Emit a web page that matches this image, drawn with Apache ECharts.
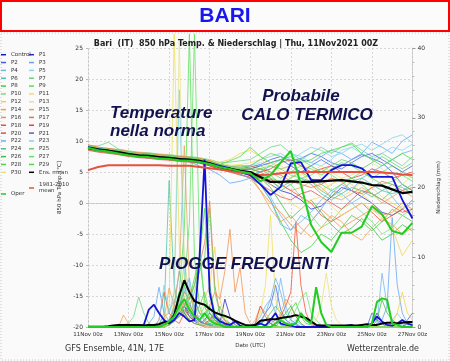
<!DOCTYPE html>
<html><head><meta charset="utf-8">
<script src="https://cdn.jsdelivr.net/npm/echarts@6/dist/echarts.min.js"></script>
<style>html,body{margin:0;padding:0;background:#fafafa}#c{width:450px;height:361px}</style>
</head><body><div id="c"></div>
<script>
// ---- tick labels ----
const X_TICKS = ['11Nov 00z','13Nov 00z','15Nov 00z','17Nov 00z','19Nov 00z','21Nov 00z','23Nov 00z','25Nov 00z','27Nov 00z'];
const T_STEP_DAYS = 0.5;   // temperature every 12 h
const R_STEP_DAYS = 0.25;  // precipitation every 6 h

// ---- 850 hPa temperature (°C), 12-hourly from 11Nov 00z ----
const T_CONTROL = [9.0,8.7,8.5,8.1,7.9,7.6,7.5,7.4,7.2,7.1,6.9,6.6,6.4,6.0,5.6,5.0,4.5,3.0,1.3,2.6,6.4,6.6,3.7,3.7,5.3,6.1,6.1,5.6,4.2,4.2,4.2,0.5,-2.5];
const T_P1 = [8.7,8.5,8.1,8.0,7.8,7.4,7.4,7.3,7.0,6.9,6.8,6.5,6.1,5.6,5.3,5.0,4.8,4.0,3.0,2.0,1.5,0.5,-1.0,-0.5,1.0,2.5,2.0,1.0,0.0,-1.5,-2.0,-1.0,0.5];
const T_P2 = [9.2,8.8,8.8,8.5,8.1,8.0,7.9,7.6,7.6,7.5,7.2,7.1,6.8,6.2,5.9,5.6,5.8,6.2,7.0,7.5,6.8,7.2,8.0,7.5,6.5,6.0,7.0,7.8,7.2,6.5,5.0,3.0,2.0];
const T_P3 = [8.8,8.5,8.4,8.0,7.8,7.6,7.4,7.2,7.2,6.9,6.6,6.0,5.4,4.5,3.2,3.5,4.0,5.0,6.0,5.5,6.0,7.0,6.5,7.5,8.5,8.0,7.0,8.0,9.8,9.0,8.0,10.0,11.0];
const T_P4 = [9.1,8.9,8.5,8.4,8.1,7.9,7.7,7.7,7.4,7.3,7.2,6.9,6.6,6.0,5.7,5.4,5.0,3.5,1.0,-2.0,-4.4,-3.0,-1.5,0.5,2.0,1.5,0.0,1.0,2.5,3.0,1.0,-1.0,0.0];
const T_P5 = [8.9,8.7,8.3,8.3,7.9,7.8,7.5,7.5,7.3,7.2,7.0,6.9,6.5,6.1,5.8,5.7,6.0,6.5,6.0,7.0,8.0,7.5,6.5,6.0,7.0,8.5,9.0,8.0,7.0,8.0,9.0,8.5,9.5];
const T_P6 = [8.6,8.3,8.2,7.8,7.6,7.5,7.2,7.1,7.0,6.8,6.7,6.5,6.1,5.5,5.2,4.9,4.5,5.0,4.0,2.0,3.0,4.0,3.5,2.0,1.0,2.0,3.5,4.0,3.0,2.0,1.5,2.0,3.0];
const T_P7 = [9.3,9.2,9.8,8.7,8.4,8.2,8.1,7.9,7.8,7.6,7.5,7.3,7.0,6.5,6.6,6.8,7.0,8.0,9.0,9.4,8.0,7.0,8.0,9.0,8.0,9.0,9.7,8.5,7.5,8.0,7.0,6.0,7.5];
const T_P8 = [8.7,8.4,8.2,8.0,7.7,7.5,7.4,7.2,7.1,6.9,6.7,6.6,6.2,5.6,5.2,4.9,4.5,3.0,0.5,-3.0,-6.0,-8.0,-7.0,-5.0,-6.0,-4.0,-2.0,-3.0,-4.5,-3.0,-1.0,-2.0,-3.0];
const T_P9 = [9.0,8.7,8.5,8.3,8.0,7.8,7.7,7.5,7.4,7.2,7.1,6.9,6.6,6.0,5.7,5.5,5.5,6.0,5.0,4.0,5.0,6.0,5.5,4.5,5.5,6.5,6.0,5.0,4.0,5.0,6.0,5.0,4.0];
const T_P10 = [8.9,8.6,8.3,8.2,7.9,7.6,7.6,7.4,7.2,7.1,6.9,6.8,6.4,5.9,5.5,5.2,5.0,4.5,4.0,3.5,3.0,1.0,-2.0,-4.0,-3.0,-1.0,0.0,-1.5,-3.0,-5.0,-4.0,-2.0,-1.0];
const T_P11 = [9.3,9.0,8.8,8.6,8.3,8.1,8.0,7.8,7.7,7.5,7.4,7.2,6.8,6.4,6.1,6.2,6.5,7.0,6.0,5.0,4.0,5.5,6.0,4.0,2.0,1.0,2.0,3.5,2.5,1.0,0.0,-1.0,0.5];
const T_P12 = [9.2,8.9,8.7,8.5,8.2,8.0,7.9,7.7,7.6,7.4,7.3,7.1,6.9,6.6,7.0,8.0,8.5,7.5,6.5,5.5,6.0,5.0,3.0,2.0,3.0,4.0,3.0,1.5,0.0,-2.0,-4.0,-8.5,-6.0];
const T_P13 = [8.8,8.5,8.3,8.1,7.8,7.6,7.5,7.3,7.2,7.0,6.9,6.7,6.3,5.8,5.4,5.1,5.0,5.5,6.5,6.0,5.0,4.5,5.0,6.0,5.0,4.0,4.5,5.5,6.5,5.5,4.0,3.0,4.5];
const T_P14 = [8.9,8.6,8.4,8.1,7.9,7.7,7.6,7.4,7.3,7.1,7.0,6.8,6.4,5.8,5.4,5.0,4.5,2.0,-1.0,-3.0,-2.0,-4.0,-5.5,-4.0,-2.0,-3.0,-5.0,-6.0,-4.0,-2.5,-3.5,-5.0,-4.0];
const T_P15 = [9.1,8.8,8.6,8.4,8.1,7.9,7.8,7.6,7.5,7.3,7.2,7.0,6.6,6.0,5.7,5.5,5.5,5.0,4.0,3.0,2.0,2.5,3.5,2.5,1.0,0.5,1.5,2.5,1.5,0.0,1.0,2.0,1.0];
const T_P16 = [8.6,8.3,8.1,7.9,7.6,7.4,7.3,7.1,7.0,6.8,6.7,6.5,6.0,5.4,5.0,4.6,4.0,2.0,0.0,-1.5,-3.5,-5.0,-3.0,-1.0,-2.5,-4.0,-3.0,-2.0,-1.0,-2.0,-1.5,0.0,-1.0];
const T_P17 = [9.4,9.0,8.8,8.6,8.3,8.1,8.0,7.8,7.7,7.5,7.4,7.2,6.8,6.2,5.9,6.0,6.0,5.5,5.0,4.5,3.5,3.0,2.5,3.0,4.0,3.5,2.0,1.5,2.5,3.5,3.0,2.0,2.5];
const T_P18 = [8.7,8.4,8.2,8.0,7.7,7.5,7.4,7.2,7.1,6.9,6.8,6.5,6.0,5.4,5.0,4.5,4.2,4.0,3.8,3.0,2.0,1.0,0.0,-2.0,-3.0,-2.0,-1.0,0.0,-1.5,-3.0,-2.0,-1.0,-2.0];
const T_P19 = [9.0,8.7,8.5,8.3,8.0,7.8,7.7,7.5,7.4,7.2,7.1,6.9,6.5,5.9,5.6,5.4,5.5,5.0,5.5,6.5,7.0,6.0,5.0,5.5,6.0,5.0,4.0,4.5,5.5,5.0,4.0,4.5,5.0];
const T_P20 = [8.5,8.2,8.0,7.8,7.5,7.3,7.2,7.0,6.9,6.7,6.6,6.4,6.0,5.4,5.1,4.7,4.0,3.0,2.0,1.0,0.5,1.5,2.0,1.0,0.0,-1.0,0.5,2.0,1.5,0.5,-0.5,-1.5,-1.0];
const T_P21 = [9.0,8.7,8.5,8.3,8.0,7.8,7.7,7.5,7.4,7.2,7.1,6.9,6.5,5.9,5.6,5.3,5.5,6.0,6.5,7.0,6.0,5.0,6.0,7.0,6.0,5.5,6.5,7.5,8.0,7.0,6.0,5.0,6.0];
const T_P22 = [8.8,8.5,8.3,8.1,7.8,7.6,7.5,7.3,7.2,7.0,6.9,6.6,6.2,5.6,5.2,4.6,4.0,3.0,0.5,-3.5,-4.4,-2.0,-3.0,-1.0,1.5,3.0,2.0,4.0,5.0,6.0,7.0,8.0,8.5];
const T_P23 = [9.1,8.8,8.6,8.4,8.1,7.9,7.8,7.6,7.5,7.3,7.2,7.0,6.6,6.1,5.8,5.7,6.0,7.0,7.5,8.0,7.0,8.0,9.0,8.5,7.5,8.0,9.0,9.5,8.5,9.5,10.5,11.0,9.7];
const T_P24 = [8.9,8.6,8.4,8.2,7.9,7.7,7.6,7.4,7.3,7.1,7.0,6.8,6.4,5.8,5.5,5.2,5.0,4.5,3.5,2.5,3.5,4.0,3.0,1.5,0.5,1.5,2.5,2.0,1.0,2.0,3.0,2.5,1.5];
const T_P25 = [9.2,8.9,8.7,8.5,8.2,8.0,7.9,7.7,7.6,7.4,7.3,7.1,6.7,6.2,5.9,5.8,6.0,7.0,8.0,7.5,6.5,7.0,6.0,5.0,6.0,7.0,6.5,5.5,6.5,7.5,6.5,5.5,6.5];
const T_P26 = [8.7,8.4,8.2,8.0,7.7,7.5,7.4,7.2,7.1,6.9,6.8,6.6,6.2,5.6,5.3,5.0,4.8,4.0,2.5,0.0,-2.5,-1.0,0.5,-1.5,-3.5,-5.0,-4.0,-2.5,-4.0,-6.0,-5.0,-3.5,-4.5];
const T_P27 = [9.1,8.8,8.6,8.4,8.1,7.9,7.8,7.6,7.5,7.3,7.2,7.0,6.6,6.0,5.7,5.5,5.5,5.5,6.0,5.5,4.5,4.0,4.5,5.5,4.5,3.5,4.0,5.0,4.0,3.0,3.5,4.5,3.5];
const T_P28 = [8.8,8.5,8.3,8.1,7.8,7.6,7.5,7.3,7.2,7.0,6.9,6.7,6.3,5.7,5.4,5.1,5.0,5.5,4.5,3.0,4.0,5.0,4.0,3.0,2.0,3.0,4.0,3.0,1.5,0.5,2.0,3.0,2.0];
const T_P29 = [9.0,8.7,8.5,8.3,8.0,7.8,7.7,7.5,7.4,7.2,7.1,6.9,6.5,6.2,6.8,7.5,9.0,7.5,6.5,7.0,7.5,6.5,7.0,8.0,8.5,9.0,9.5,8.0,7.0,6.0,7.0,8.0,7.0];
const T_P30 = [8.9,8.6,8.4,8.2,7.9,7.7,7.6,7.4,7.3,7.1,7.0,6.8,6.4,5.8,5.5,5.2,5.0,4.0,3.0,1.5,0.0,-1.0,0.5,1.0,-0.5,-2.0,-1.0,0.0,-1.0,-2.5,-1.5,-0.5,-1.5];
const T_ENS_MEAN = [8.9,8.6,8.4,8.2,7.9,7.7,7.6,7.4,7.3,7.1,7.0,6.8,6.4,5.8,5.5,5.2,5.0,4.2,3.4,3.4,3.5,3.4,3.4,3.5,3.6,3.7,3.5,3.3,2.9,2.8,2.2,1.6,1.8];
const T_OPER = [8.9,8.5,8.3,8.0,7.7,7.5,7.4,7.2,7.1,6.9,6.8,6.6,6.3,5.8,5.5,5.1,4.8,3.5,4.5,6.5,8.4,3.0,-3.5,-6.3,-7.9,-4.8,-4.8,-3.8,-0.5,-1.8,-4.5,-5.0,-3.2];
const T_CLIM = [5.3,5.8,6.1,6.1,6.1,6.1,6.1,6.1,6.0,6.0,6.0,5.8,5.6,5.4,5.2,4.9,4.7,4.5,4.6,4.8,4.9,5.0,5.0,5.0,5.0,5.0,5.0,5.0,5.0,4.9,4.8,4.6,4.5];

// ---- precipitation (mm / 6 h), 6-hourly from 11Nov 00z ----
const R_CONTROL = [0,0,0,0, 0,0,0.1,0, 0,0,0.2,0.3, 2.5,3.2,2.0,1.0, 0.5,1.0,2.0,1.5, 0.8,1.0,10,24, 5.0,1.5,0.8,0.5, 0.3,0.8,0.2,0, 0,0.3,0.5,0.2, 1.0,2.0,0.5,0.3, 0.2,0,0,0, 0,0,0,0, 0,0,0,0.2, 0.3,0,0,0, 0.5,1.5,0.8,0.3, 0.2,0.5,1.0,0.5, 0.3];
const R_P1 = [0,0,0,0, 0,0,0,0, 0,0,0,0, 0,0.2,0.3,0, 0.5,1.0,2.0,3.0, 1.5,0.8,0.5,1.0, 2.0,1.0,0.5,4.0, 1.5,0.3,0,0, 0,0,0.5,1.0, 0.5,0.2,0,0, 0,0,0,0, 0,0,0,0, 0,0,0,0, 0,0,0,0, 0.5,2.0,0.8,0.3, 0,0,0,0.5, 0.2];
const R_P2 = [0,0,0,0, 0,0,0,0, 0,0,0.3,0.2, 0,0,0,0.5, 1.0,2.5,4.0,2.0, 3.5,1.5,0.8,0.5, 0.3,0.5,1.2,0.6, 0.2,0,0,0, 0,0,0.8,2.0, 3.0,6.0,2.5,1.0, 0.5,0.3,0,0, 0,0,0,0, 0,0,0,0, 0,0,0,0, 0,0,0,0, 0,0,0,0, 0];
const R_P3 = [0,0,0,0, 0,0,0,0, 0,0,0,0, 0.5,1.5,5.7,2.0, 0.8,3.0,8.0,4.0, 2.0,1.0,0.5,0.3, 0.8,1.5,0.5,0.2, 0,0,0,0, 0,0,0,0, 0.5,1.0,0.3,0, 0,0,0,0, 0,0,0,0, 0,0,0,0, 0,0,0,0, 0,0.5,1.0,3.0, 15.7,6.0,2.0,0.5, 0.3];
const R_P4 = [0,0,0,0, 0,0,0,0, 0,0,0,0, 0,0.3,0.5,1.5, 2.0,4.0,2.5,6.0, 3.0,1.5,0.8,0.3, 0.5,0.2,0,0, 0,0,0,0, 0,0.5,1.5,3.0, 4.0,2.0,7.0,3.0, 1.0,0.5,0,0, 0,0,0,0, 0,0,0,0, 0,0,0,0, 0,0.5,7.7,3.0, 1.0,0.5,0.3,0, 0];
const R_P5 = [0,0,0,0, 0,0,0,0, 0,0,0,0, 0,0,0.5,1.0, 0.5,1.5,3.5,9.0, 5.0,2.0,1.0,0.5, 0.3,0.2,0,0, 0,0,0,0, 0,0,0,0, 0,0,0,0, 0.5,1.0,0.3,0, 0,0,0,0, 0,0,0,0, 0,0,0,0, 0,0,0,0.5, 1.0,2.0,1.0,0.3, 0];
const R_P6 = [0,0,0,0, 0,0,0,0, 0,0,0,0, 0,0,0.3,2.0, 21.0,6.0,2.5,1.5, 3.0,1.0,0.5,0.3, 0.2,0.5,0.2,0, 0,0,0,0, 0,0,0,0, 0,0,0,0, 0,0,0,0, 0,0,0,0, 0,0,0,0, 0,0,0,0, 0,0,0,0, 0,0,0,0, 0];
const R_P7 = [0,0,0,0, 0,0,0,0.3, 0.5,1.5,4.3,2.0, 0.5,0.2,0,0, 0.5,2.0,3.0,1.5, 1.0,4.0,2.0,0.8, 0.3,0,0,0, 0,0,0,0, 0,0,0,0, 0,0,0,0, 0,0,0,0, 0,0,0,0, 0,0,0,0, 0,0,0,0, 0,0,0,0, 0,0,0,0, 0];
const R_P8 = [0,0,0,0, 0,0,0,0, 0,0,0,0, 0,0,0,0.5, 1.0,2.0,5.0,3.0, 4.0,7.0,10.0,4.0, 2.0,1.0,0.5,0.3, 0.2,0,0,0, 0,0,0.5,1.0, 2.0,3.0,2.0,1.0, 2.5,3.5,1.5,0.5, 0.3,0,0,0, 0,0,0,0, 0,0,0,0, 0,0,0,0, 0,0,0,0, 0];
const R_P9 = [0,0,0,0, 0,0,0,0, 0,0,0,0, 0,0,0,0.3, 0.8,2.0,5.0,14.0, 42.0,10.0,3.0,1.0, 0.5,0.3,0,0, 0,0,0,0, 0,0,0,0, 0,0,0,0, 0,0,0,0, 0,0,0,0, 0,0,0,0, 0,0,0,0, 0,0,0,0, 0,0,0,0, 0];
const R_P10 = [0,0,0,0, 0,0,0,0, 0,0,0,0, 0,0,0,0.5, 1.0,2.0,3.5,6.0, 2.0,1.0,1.5,3.0, 1.5,0.5,0.3,0, 0,0,0,0, 0,0,0,0, 0,0,0,0.5, 1.0,2.5,4.0,5.0, 2.0,1.0,0.3,0, 0,0,0,0, 0,0,0,0, 0,0,0,0, 0,0,0,0, 0];
const R_P11 = [0,0,0,0, 0,0,0,0, 0,0,0,0, 0,0,0,0.5, 3.0,42.0,12.0,4.0, 2.0,1.0,0.5,0.3, 0,0,0,0, 0,0,0,0, 0,0.5,2.0,6.0, 16.0,4.0,1.5,0.5, 0.3,0,0,0, 0,0,0,0, 0,0,0,0, 0,0,0,0, 0,0,0,0, 0,0,0,0, 0];
const R_P12 = [0,0,0,0, 0,0,0,0, 0,0,0,0, 0,0,0,0, 0.5,1.0,2.0,3.0, 5.0,3.0,2.0,4.0, 6.0,11.5,4.0,1.5, 0.5,0.2,0,0, 0,0,0,0, 0,0,0,0, 0,0,0,0, 0,0,0,0, 0,0,0,0, 0,0,0,0, 0,0,0,0, 0.5,2.0,5.0,2.0, 1.0];
const R_P13 = [0,0,0,0, 0,0,0,0, 0,0,0,0, 0,0,0,0, 0.5,4.0,41.0,10.0, 3.0,1.5,0.5,0.3, 0,0,0,0, 0,0,0,0, 0,0,0,0, 0,0,0,0, 0,0,0,0, 0,0,0,0, 0,0,0,0, 0,0,0,0, 0,0,0,0, 0,0,0,0, 0];
const R_P14 = [0,0,0,0, 0,0,0,1.7, 0.5,0,0,0, 0,0,0,1.0, 5.6,3.0,2.0,1.5, 2.0,1.0,0.5,0.8, 1.5,0.8,0.3,0, 0,0,0,0, 0,1.0,3.0,2.0, 1.0,0.5,2.0,4.0, 3.0,1.5,0.5,0, 0,0,0,0, 0,0,0,0, 0,0,0,0, 0,0,0,0, 0,0,0,0, 0];
const R_P15 = [0,0,0,0, 0,0,0,0, 0,0,0,0, 0,0,0,0.5, 1.0,3.0,8.0,26.0, 6.0,2.0,1.0,0.5, 0.3,0,0,0, 0,0,0,0, 0,0,0,0, 0,0,0,0, 0,0,0,0, 0,0,0,0, 0,0,0,0, 0,0,0,0, 0,0,0,0, 0,0,0,0, 0];
const R_P16 = [0,0,0,0, 0,0,0,0, 0,0,0,0, 0,0,0,0, 0.5,1.0,2.0,3.5, 2.0,1.5,1.0,2.0, 3.0,5.0,4.0,8.0, 14.0,5.0,8.5,2.0, 0.5,0,0,0, 0,0,0,0, 0,0,0,0, 0,0,0,0, 0,0,0,0, 0,0,0,0, 0,0,0,0, 0,0,0,0, 0];
const R_P17 = [0,0,0,0, 0,0,0,0, 0,0,0,0, 0,0,0,0, 0.5,1.5,3.0,5.0, 4.0,6.0,9.0,12.0, 18.0,6.0,2.0,0.8, 0.3,0,0,0, 0,0,0,0, 0,0,0,0, 0,0,0,0, 0,0,0,0, 0,0,0,0, 0,0,0,0, 0,0,0,0, 0,0,0,0, 0];
const R_P18 = [0,0,0,0, 0,0,0,0, 0,0,0,0, 0,0,1.0,5.0, 2.0,1.0,0.5,2.0, 1.0,0.5,0.3,0, 0,0,0,0, 0,0,0,0, 0,0,0,0, 0,0.5,1.5,3.0, 5.0,15.0,6.0,2.0, 0.5,0,0,0, 0,0,0,0, 0,0,0,0, 0,0,0,0, 0,0,0,0, 0];
const R_P19 = [0,0,0,0, 0,0,0,0, 0,0,0,0, 0,0,0,0, 0.3,0.8,2.0,4.0, 3.0,2.0,1.0,0.5, 1.0,2.0,1.0,0.3, 0,0,0,0, 0,0,0,0, 0,0,0,0, 0,0,0,0, 0,0,0,0, 0,0,0,0, 0,0,0,0, 0,0,0,0, 0,0,0,0, 0];
const R_P20 = [0,0,0,0, 0,0,0,0, 0,0,0,0, 0,0,0,0, 0.5,1.0,1.5,2.5, 1.5,1.0,0.5,0.3, 0,0,0,0, 0,0,0,0, 0,0.5,3.0,1.5, 0.5,0,0,0, 0,0,0,0, 0,0,0,0, 0,0,0,0, 0,0,0,0, 0,0,0,0, 0,0,0,0, 0];
const R_P21 = [0,0,0,0, 0,0,0,0, 0,0,0,0, 0,0,0,0, 0.5,1.0,2.0,3.0, 2.0,1.0,0.8,0.5, 0.3,0,0,0, 0,0,0,0, 0,0,0,0, 0,0,0,0, 0,0,0,0, 0,0,0,0, 0,0,0,0, 0,0,0,0, 2.0,1.0,0.5,0, 0,0,0,1.0, 2.0];
const R_P22 = [0,0,0,0, 0,0,0,0, 0,0,0,0, 0,0,0,0.5, 1.0,2.0,3.0,5.0, 7.0,3.0,1.0,0.5, 0.3,0,0,0, 0,0,0,0, 0,0,0.5,2.0, 4.0,7.0,5.0,2.0, 1.0,0.5,0,0, 0,0,0,0, 0,0,0,0, 0,0,0,0, 0,0,0,0, 0,0,0,0, 0];
const R_P23 = [0,0,0,0, 0,0,0,0, 0,0,0,0, 0,0,1.0,6.0, 2.0,5.0,34.0,8.0, 2.0,1.0,0.5,0.3, 0,0,0,0, 0,0,0,0, 0,0,0,0, 0,0,0,0, 0,0,0,0, 0,0,0,0, 0,0,0,0, 0,0,0,0, 0,0,0,0, 0,0,0,0, 0];
const R_P24 = [0,0,0,0, 0,0,0,0, 0,0,0,0, 0,0,0,0, 0.3,1.0,2.0,3.0, 5.0,4.0,2.0,1.5, 3.0,1.0,0.5,0, 0,0,0,0, 0,0,0,0, 0,0,0,0, 0,0,0,0, 0,0,0,0, 0,0,0,0, 0,0,0,0, 0,0,0,0, 0,0,0,0, 0];
const R_P25 = [0,0,0,0, 0,0,0,0, 0,0,0,0, 0,0,0,0, 0.5,1.0,1.5,2.0, 3.0,5.0,8.0,10.0, 17.0,5.0,2.0,1.0, 0.5,0,0,0, 0,0,0,0, 0,0,0,0, 0,0,0,0, 0,0,0,0, 0,0,0,0, 0,0,0,0, 0,0,0,0, 0,0,0,0, 0];
const R_P26 = [0,0,0,0, 0,0,0,0, 0,0,0,0, 0,0,0,0, 0.5,1.5,3.0,2.0, 1.0,0.5,0.3,0.2, 0.5,1.0,0.5,0, 0,0,0,0, 0,0,0,0, 0,0,1.0,2.0, 3.0,1.5,0.5,0, 0,0,0,0, 0,0,0,0, 0,0,0,0, 0,1.0,3.9,2.0, 1.0,0.5,0,0, 0];
const R_P27 = [0,0,0,0, 0,0,0,0, 0,0,0,0, 0,0,0,0, 0.5,1.0,2.0,6.0, 15.0,42.0,12.0,3.0, 1.0,0.5,0,0, 0,0,0,0, 0,0,0,0, 0,0,0,0, 0,0,0,0, 0,0,0,0, 0,0,0,0, 0,0,0,0, 0,0,0,0, 0,0,0,0, 0];
const R_P28 = [0,0,0,0, 0,0,0,0, 0,0,0,0, 0,0,0,0, 0.5,1.0,2.5,4.0, 3.0,2.0,3.0,5.0, 2.0,1.0,3.0,1.0, 0.5,0,0,0, 0,0,0,0, 0,0,0,0, 0,0,0,0, 0,0,0,0, 0,0,0,0, 0,0,0,0, 0,0,0,0, 0,0,0,0, 0];
const R_P29 = [0,0,0,0, 0,0,0,0, 0,0,0,0, 0,0,0,0, 0.3,0.8,1.5,3.0, 4.0,6.0,10.0,17.0, 6.0,2.0,1.0,0.5, 0,0,0,0, 0,0,0,0, 0,0,0,0, 0,0,0,0, 0,0,0,0, 0,0,0,0, 0,0,0,0, 0,0,0,0, 0,0,0,0, 0];
const R_P30 = [0,0,0,0, 0,0,0,0, 0,0,0,0, 0,0,0,0, 0.5,1.0,2.0,4.0, 3.0,1.5,0.5,0.3, 0,0,0,0, 0,0,0,0, 0,0,0,0, 0,0,0,0, 0,0,0,0, 0,1.0,3.0,7.7, 3.0,1.0,0.3,0, 0,0,0,0, 0,0,0,0, 0,0,0,0, 0];
const R_ENS_MEAN = [0.05,0.05,0.05,0.05, 0.1,0.2,0.3,0.3, 0.3,0.3,0.3,0.2, 0.3,0.3,0.4,0.7, 0.7,1.7,4.5,6.7, 5.0,3.7,3.4,3.2, 2.6,2.1,1.8,1.6, 1.3,0.9,0.6,0.3, 0.2,0.3,0.9,1.0, 1.1,1.1,1.3,1.4, 1.5,1.7,1.5,1.3, 0.8,0.3,0.2,0.2, 0.2,0.2,0.2,0.2, 0.2,0.2,0.3,0.4, 0.3,0.3,0.5,0.6, 0.6,0.5,0.6,0.7, 0.7];
const R_OPER = [0,0,0,0, 0,0,0,0, 0,0,0,0, 0,0,0,0.3, 0.8,1.5,3.0,4.0, 2.5,1.5,1.0,2.0, 1.0,0.5,0.3,0, 0,0,0,0, 0,0,0,0, 0,0.5,1.0,0.5, 0.3,0.5,2.0,1.0, 0.5,5.7,2.0,0.3, 0,0,0,0, 0,0,0,0, 0.5,3.6,4.1,3.9, 0.5,0.3,0,0, 0];

// ---- series names ----
const MEMBER_NAMES = ['Control','P1','P2','P3','P4','P5','P6','P7','P8','P9','P10','P11','P12','P13','P14','P15','P16','P17','P18','P19','P20','P21','P22','P23','P24','P25','P26','P27','P28','P29','P30'];
const MEMBER_TEMPS = [T_CONTROL,T_P1,T_P2,T_P3,T_P4,T_P5,T_P6,T_P7,T_P8,T_P9,T_P10,T_P11,T_P12,T_P13,T_P14,T_P15,T_P16,T_P17,T_P18,T_P19,T_P20,T_P21,T_P22,T_P23,T_P24,T_P25,T_P26,T_P27,T_P28,T_P29,T_P30];
const MEMBER_RAINS = [R_CONTROL,R_P1,R_P2,R_P3,R_P4,R_P5,R_P6,R_P7,R_P8,R_P9,R_P10,R_P11,R_P12,R_P13,R_P14,R_P15,R_P16,R_P17,R_P18,R_P19,R_P20,R_P21,R_P22,R_P23,R_P24,R_P25,R_P26,R_P27,R_P28,R_P29,R_P30];

// ---- styles ----
const COLORS = {
  'Control':'#1414d8','P1':'#2a2ac0','P2':'#3f62e6','P3':'#5fa6f2','P4':'#72b6f2','P5':'#86d6f2',
  'P6':'#4ec4a6','P7':'#66d484','P8':'#3fd03f','P9':'#55e055','P10':'#74e474',
  'P11':'#efe05a','P12':'#f2d24c','P13':'#e6e48a','P14':'#f2a23e','P15':'#e0a466','P16':'#f0904e',
  'P17':'#f0703e','P18':'#f05030','P19':'#ee3c3c','P20':'#e05050','P21':'#4464e4','P22':'#62b2f2',
  'P23':'#82d2e6','P24':'#4ec28e','P25':'#62d262','P26':'#3ec23e','P27':'#62e262','P28':'#50d250',
  'P29':'#40e040','P30':'#f0e070',
  'Ens. mean':'#000000','Oper':'#22cc22','1981-2010 mean':'#e85040'
};
const FONT = 'DejaVu Sans';

const pairs = (arr, step) => arr.map((v, i) => [i * step, v]);
const series = [];
MEMBER_NAMES.forEach((n, k) => {
  const thick = n === 'Control';
  series.push({ name: n, type: 'line', yAxisIndex: 1, data: pairs(MEMBER_RAINS[k], R_STEP_DAYS),
    symbol: 'none', clip: false, z: thick ? 4 : 2,
    lineStyle: { width: thick ? 1.8 : 0.9, color: COLORS[n], opacity: thick ? 1 : 0.85 }, itemStyle: { color: COLORS[n] } });
});
MEMBER_NAMES.forEach((n, k) => {
  const thick = n === 'Control';
  series.push({ name: n, type: 'line', yAxisIndex: 0, data: pairs(MEMBER_TEMPS[k], T_STEP_DAYS),
    symbol: 'none', z: thick ? 5 : 3,
    lineStyle: { width: thick ? 1.8 : 0.9, color: COLORS[n], opacity: thick ? 1 : 0.85 }, itemStyle: { color: COLORS[n] } });
});
series.push({ name: '1981-2010 mean', type: 'line', yAxisIndex: 0, data: pairs(T_CLIM, T_STEP_DAYS), symbol: 'none', z: 5,
  lineStyle: { width: 2, color: COLORS['1981-2010 mean'] }, itemStyle: { color: COLORS['1981-2010 mean'] } });
series.push({ name: 'Ens. mean', type: 'line', yAxisIndex: 1, data: pairs(R_ENS_MEAN, R_STEP_DAYS), symbol: 'none', z: 6,
  lineStyle: { width: 2, color: '#000' }, itemStyle: { color: '#000' } });
series.push({ name: 'Ens. mean', type: 'line', yAxisIndex: 0, data: pairs(T_ENS_MEAN, T_STEP_DAYS), symbol: 'none', z: 6,
  lineStyle: { width: 2.2, color: '#000' }, itemStyle: { color: '#000' } });
series.push({ name: 'Oper', type: 'line', yAxisIndex: 1, data: pairs(R_OPER, R_STEP_DAYS), symbol: 'none', z: 6,
  lineStyle: { width: 2, color: COLORS['Oper'] }, itemStyle: { color: COLORS['Oper'] } });
series.push({ name: 'Oper', type: 'line', yAxisIndex: 0, data: pairs(T_OPER, T_STEP_DAYS), symbol: 'none', z: 6,
  lineStyle: { width: 2, color: COLORS['Oper'] }, itemStyle: { color: COLORS['Oper'] } });

const legendBase = {
  orient: 'vertical', icon: 'rect', itemWidth: 5, itemHeight: 1.5, itemGap: 1.84, padding: 0,
  selectedMode: false,
  textStyle: { fontSize: 5.5, lineHeight: 6, color: '#333', fontFamily: FONT },
  formatter: n => n === '1981-2010 mean' ? '1981-2010\nmean' : n
};
const col1 = MEMBER_NAMES.filter((n, i) => i % 2 === 0);
const col2 = MEMBER_NAMES.filter((n, i) => i % 2 === 1).concat(['Ens. mean']);

const chart = echarts.init(document.getElementById('c'), null, { renderer: 'canvas' });
chart.setOption({
  animation: false,
  backgroundColor: '#fafafa',
  title: {
    text: 'Bari  (IT)  850 hPa Temp. & Niederschlag | Thu, 11Nov2021 00Z',
    left: 231, top: 35, textAlign: 'center',
    textStyle: { fontSize: 8, fontWeight: 'bold', color: '#222', fontFamily: FONT }
  },
  legend: [
    Object.assign({}, legendBase, { left: 1, top: 51.7, data: col1 }),
    Object.assign({}, legendBase, { left: 29, top: 51.7, data: col2 }),
    Object.assign({}, legendBase, { left: 1, top: 191, data: ['Oper'] }),
    Object.assign({}, legendBase, { left: 29, top: 182, data: ['1981-2010 mean'] })
  ],
  grid: { left: 88, right: 23, top: 48, bottom: 34 },
  xAxis: {
    type: 'value', min: 0, max: 16, interval: 2,
    name: 'Date (UTC)', nameLocation: 'middle', nameGap: 14,
    nameTextStyle: { fontSize: 5.5, color: '#333', fontFamily: FONT },
    axisLine: { show: true, lineStyle: { color: '#bbb', width: 0.6 } },
    axisTick: { show: false },
    axisLabel: { fontSize: 5.5, color: '#333', fontFamily: FONT, margin: 5,
      formatter: v => X_TICKS[Math.round(v / 2)] || '' },
    splitLine: { show: true, lineStyle: { color: '#cfcfcf', type: [2, 2], width: 0.8 } }
  },
  yAxis: [
    { type: 'value', min: -20, max: 25, interval: 5, position: 'left',
      name: '850 hPa Temp. [°C]', nameLocation: 'middle', nameGap: 15,
      nameTextStyle: { fontSize: 5.5, color: '#333', fontFamily: FONT },
      axisLine: { show: true, lineStyle: { color: '#bbb', width: 0.6, type: [2, 2] } },
      axisTick: { show: true, length: 2, lineStyle: { color: '#bbb' } },
      axisLabel: { fontSize: 6, color: '#333', fontFamily: FONT, margin: 5 },
      splitLine: { show: true, lineStyle: { color: '#cfcfcf', type: [2, 2], width: 0.8 } } },
    { type: 'value', min: 0, max: 40, interval: 10, position: 'right',
      name: 'Niederschlag (mm)', nameLocation: 'middle', nameGap: 13,
      nameTextStyle: { fontSize: 5.5, color: '#333', fontFamily: FONT },
      axisLine: { show: true, lineStyle: { color: '#bbb', width: 0.6 } },
      axisTick: { show: true, length: 3, lineStyle: { color: '#999' } },
      minorTick: { show: true, splitNumber: 5, length: 2, lineStyle: { color: '#bbb' } },
      axisLabel: { fontSize: 6, color: '#333', fontFamily: FONT, margin: 5 },
      splitLine: { show: false } }
  ],
  graphic: [
    { type: 'rect', z: -10, shape: { x: 1, y: 33, width: 448, height: 327 },
      style: { fill: 'none', stroke: '#c8c8c8', lineWidth: 1, lineDash: [1, 2] } },
    { type: 'rect', z: 100, shape: { x: 1, y: 1, width: 448, height: 30 },
      style: { fill: '#fbfbfb', stroke: '#ff0000', lineWidth: 2 } },
    { type: 'text', z: 101, x: 225, y: 16,
      style: { text: 'BARI', fill: '#1818ee', font: 'bold 21px "Liberation Sans", Arial, sans-serif', textAlign: 'center', textVerticalAlign: 'middle' } },
    { type: 'text', z: 50, x: 110, y: 113,
      style: { text: 'Temperature', fill: '#12124e', font: 'italic bold 17px "Liberation Sans", Arial, sans-serif', textVerticalAlign: 'middle' } },
    { type: 'text', z: 50, x: 110, y: 131,
      style: { text: 'nella norma', fill: '#12124e', font: 'italic bold 17px "Liberation Sans", Arial, sans-serif', textVerticalAlign: 'middle' } },
    { type: 'text', z: 50, x: 301, y: 96,
      style: { text: 'Probabile', fill: '#12124e', font: 'italic bold 17px "Liberation Sans", Arial, sans-serif', textAlign: 'center', textVerticalAlign: 'middle' } },
    { type: 'text', z: 50, x: 307, y: 115,
      style: { text: 'CALO TERMICO', fill: '#12124e', font: 'italic bold 17px "Liberation Sans", Arial, sans-serif', textAlign: 'center', textVerticalAlign: 'middle' } },
    { type: 'text', z: 50, x: 244, y: 264,
      style: { text: 'PIOGGE FREQUENTI', fill: '#12124e', font: 'italic bold 17px "Liberation Sans", Arial, sans-serif', textAlign: 'center', textVerticalAlign: 'middle' } },
    { type: 'text', z: 50, x: 65, y: 349,
      style: { text: 'GFS Ensemble, 41N, 17E', fill: '#333', font: '8px "DejaVu Sans", sans-serif', textVerticalAlign: 'middle' } },
    { type: 'text', z: 50, x: 419, y: 349,
      style: { text: 'Wetterzentrale.de', fill: '#333', font: '8px "DejaVu Sans", sans-serif', textAlign: 'right', textVerticalAlign: 'middle' } }
  ],
  series: series
});
</script></body></html>
